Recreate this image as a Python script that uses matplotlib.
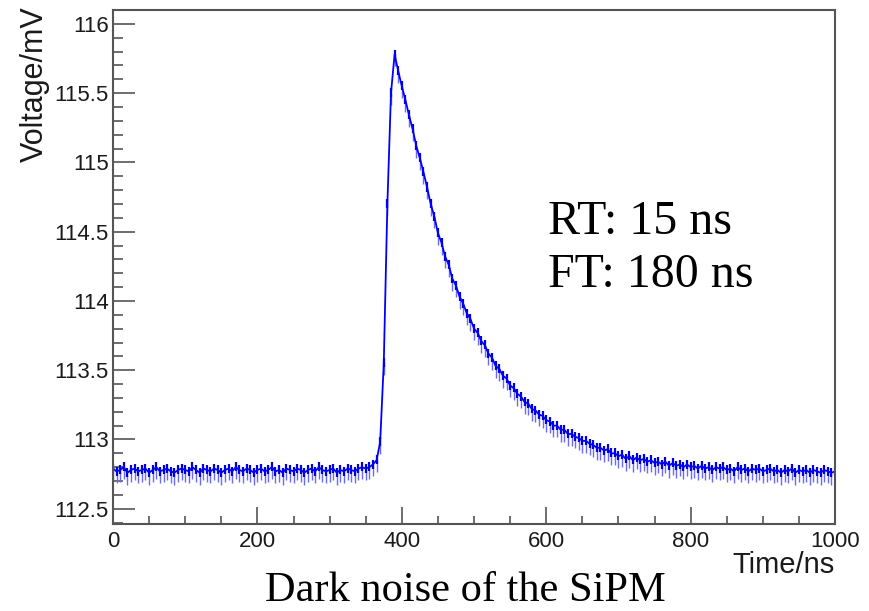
import numpy as np
import matplotlib
matplotlib.use("Agg")
from matplotlib import pyplot as plt
from matplotlib.ticker import MultipleLocator

time_ns = np.arange(0, 1001, 5)
voltage_mv = [
    # baseline 0 - 355 ns
    112.79, 112.77, 112.78, 112.80, 112.76, 112.78, 112.79, 112.77, 112.78, 112.79,
    112.76, 112.78, 112.80, 112.77, 112.78, 112.79, 112.77, 112.76, 112.78, 112.79,
    112.78, 112.77, 112.80, 112.78, 112.76, 112.79, 112.78, 112.77, 112.79, 112.78,
    112.76, 112.78, 112.79, 112.77, 112.80, 112.78, 112.77, 112.79, 112.78, 112.76,
    112.78, 112.79, 112.77, 112.78, 112.80, 112.77, 112.78, 112.76, 112.79, 112.78,
    112.77, 112.79, 112.78, 112.76, 112.78, 112.79, 112.77, 112.80, 112.78, 112.77,
    112.78, 112.79, 112.76, 112.78, 112.77, 112.79, 112.78, 112.77, 112.79, 112.80,
    112.79, 112.80,
    # rise 360 - 390 ns
    112.82, 112.85, 112.98, 113.55, 114.70, 115.50, 115.78,
    # decay 395 - 1000 ns
    115.66, 115.55, 115.45, 115.34, 115.24, 115.12, 115.03, 114.93, 114.82, 114.70,
    114.61, 114.49, 114.42, 114.32, 114.26, 114.16, 114.11, 114.03, 113.98, 113.91,
    113.87, 113.80, 113.77, 113.71, 113.68, 113.62, 113.59, 113.53, 113.51, 113.46,
    113.44, 113.39, 113.37, 113.33, 113.31, 113.27, 113.26, 113.22, 113.21, 113.18,
    113.17, 113.14, 113.13, 113.10, 113.10, 113.07, 113.07, 113.04, 113.04, 113.02,
    113.01, 112.99, 112.99, 112.97, 112.96, 112.94, 112.94, 112.92, 112.93, 112.90,
    112.90, 112.88, 112.89, 112.86, 112.88, 112.85, 112.87, 112.85, 112.86, 112.84,
    112.85, 112.83, 112.84, 112.82, 112.84, 112.81, 112.83, 112.81, 112.82, 112.80,
    112.82, 112.80, 112.81, 112.79, 112.81, 112.79, 112.80, 112.78, 112.80, 112.79,
    112.80, 112.78, 112.79, 112.77, 112.80, 112.78, 112.79, 112.77, 112.79, 112.78,
    112.79, 112.77, 112.78, 112.79, 112.77, 112.78, 112.76, 112.78, 112.77, 112.79,
    112.76, 112.78, 112.77, 112.78, 112.76, 112.78, 112.77, 112.76, 112.78, 112.77,
    112.76, 112.77,
]
# noise spread around each sample
band_down = 0.03
band_up = 0.035
spike_down = 0.085

fig = plt.figure(figsize=(8.69, 6.11), dpi=100)
ax = fig.add_axes([0.130, 0.1424, 0.831, 0.8412])

v = np.array(voltage_mv)
ax.vlines(time_ns, v - spike_down, v, color="#6a6aff", linewidth=1.0)
ax.vlines(time_ns, v - band_down, v + band_up, color="#0000d8", linewidth=1.6)
ax.plot(time_ns, v, color="#0000ff", linewidth=1.3)

ax.set_xlim(0, 1000)
ax.set_ylim(112.39, 116.10)
ax.xaxis.set_major_locator(MultipleLocator(200))
ax.xaxis.set_minor_locator(MultipleLocator(50))
ax.yaxis.set_major_locator(MultipleLocator(0.5))
ax.yaxis.set_minor_locator(MultipleLocator(0.1))
ax.yaxis.set_major_formatter(lambda x, pos: f"{x:g}")

for s in ax.spines.values():
    s.set_color("#555555")
    s.set_linewidth(1.5)
ax.tick_params(which="both", direction="in", top=False, right=False, color="#555555",
               width=1.2, labelsize=16, labelcolor="#1a1a1a")
ax.tick_params(axis="y", which="major", length=16, pad=3)
ax.tick_params(axis="y", which="minor", length=7)
ax.tick_params(axis="x", which="major", length=12, pad=5)
ax.tick_params(axis="x", which="minor", length=6)
for lab in ax.get_xticklabels() + ax.get_yticklabels():
    lab.set_family(["Liberation Sans", "DejaVu Sans"])

fig.text(0.040, 0.990, "Voltage/mV", rotation=90, ha="center", va="top", fontsize=22,
         family=["Liberation Sans", "DejaVu Sans"], color="#1a1a1a")
fig.text(0.961, 0.098, "Time/ns", ha="right", va="top", fontsize=21,
         family=["Liberation Sans", "DejaVu Sans"], color="#1a1a1a")

ax.text(0.603, 0.565, "RT: 15 ns", transform=ax.transAxes, fontsize=34.5,
        family=["Liberation Serif", "DejaVu Serif"])
ax.text(0.603, 0.462, "FT: 180 ns", transform=ax.transAxes, fontsize=34.5,
        family=["Liberation Serif", "DejaVu Serif"])
fig.text(0.535, 0.002, "Dark noise of the SiPM", ha="center", va="bottom", fontsize=30.5,
         family=["Liberation Serif", "DejaVu Serif"])

plt.savefig("out.png", dpi=100)
plt.close()
